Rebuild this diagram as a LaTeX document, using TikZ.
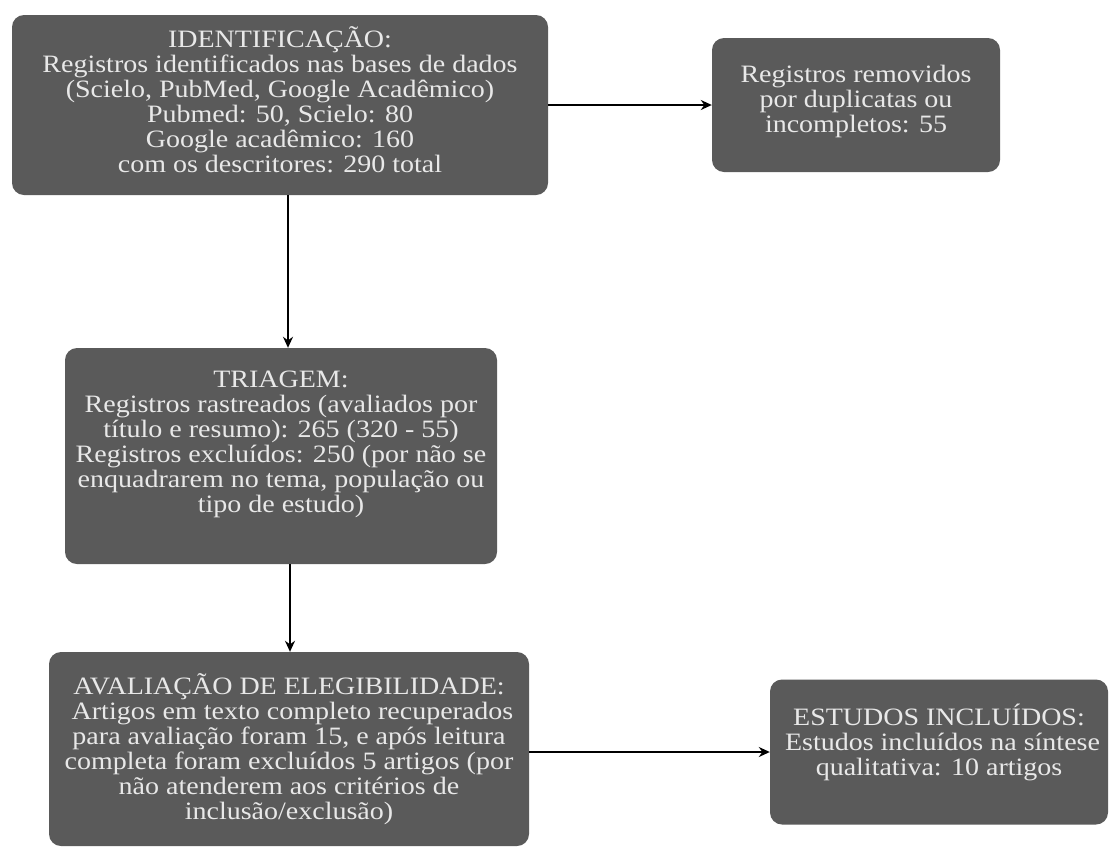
\documentclass[tikz,border=0pt]{standalone}
\usepackage{fontspec}
\setmainfont{Liberation Serif}[FakeStretch=1.12]
\usetikzlibrary{arrows.meta}
\definecolor{boxgray}{HTML}{5A5A5A}
\definecolor{txtgray}{HTML}{E8E8E8}
\newcommand{\boxfnt}{\fontsize{25}{25}\selectfont\setlength{\lineskiplimit}{-20pt}}
\begin{document}
\begin{tikzpicture}[x=1pt,y=-1pt,
  box/.style={draw=none, fill=boxgray, rounded corners=12pt, inner sep=0pt},
  txt/.style={text=txtgray, align=center, font=\boxfnt, inner sep=0pt},
  arr/.style={line width=2pt, -{Stealth[length=11pt,width=10pt]}}]
\useasboundingbox[fill=white] (0,0) rectangle (1113,849);
% boxes
\node[box, minimum width=536pt, minimum height=180pt] (ident) at (280,105) {};
\node[box, minimum width=288pt, minimum height=134pt] (remov) at (856,105) {};
\node[box, minimum width=432pt, minimum height=216pt] (triag) at (281,456) {};
\node[box, minimum width=480pt, minimum height=194pt] (aval) at (289,749) {};
\node[box, minimum width=338pt, minimum height=145pt] (incl) at (939,752) {};
% texts
\node[txt] (identT) at (280,100)
  {IDENTIFICAÇÃO:\\Registros identificados nas bases de dados\\(Scielo, PubMed, Google Acadêmico)\\Pubmed: 50, Scielo: 80\\Google acadêmico: 160\\com os descritores: 290 total};
\node[txt] (removT) at (856,101)
  {Registros removidos\\por duplicatas ou\\incompletos: 55};
\node[txt] (triagT) at (281,444)
  {TRIAGEM:\\Registros rastreados (avaliados por\\título e resumo): 265 (320 - 55)\\Registros excluídos: 250 (por não se\\enquadrarem no tema, população ou\\tipo de estudo)};
\node[txt] (avalT) at (289,749)
  {AVALIAÇÃO DE ELEGIBILIDADE:\\~Artigos em texto completo recuperados\\para avaliação foram 15, e após leitura\\completa foram excluídos 5 artigos (por\\não atenderem aos critérios de\\inclusão/exclusão)};
\node[txt] (inclT) at (939,742)
  {ESTUDOS INCLUÍDOS:\\~Estudos incluídos na síntese\\qualitativa: 10 artigos};
% connectors
\draw[arr] (ident.east) -- (ident.east -| remov.west);
\draw[arr] ([xshift=8pt]ident.south) -- ([xshift=8pt]ident.south |- triag.north);
\draw[arr] ([xshift=9pt]triag.south) -- ([xshift=9pt]triag.south |- aval.north);
\draw[arr] (aval.east |- incl.west) -- (incl.west);
\end{tikzpicture}
\end{document}
